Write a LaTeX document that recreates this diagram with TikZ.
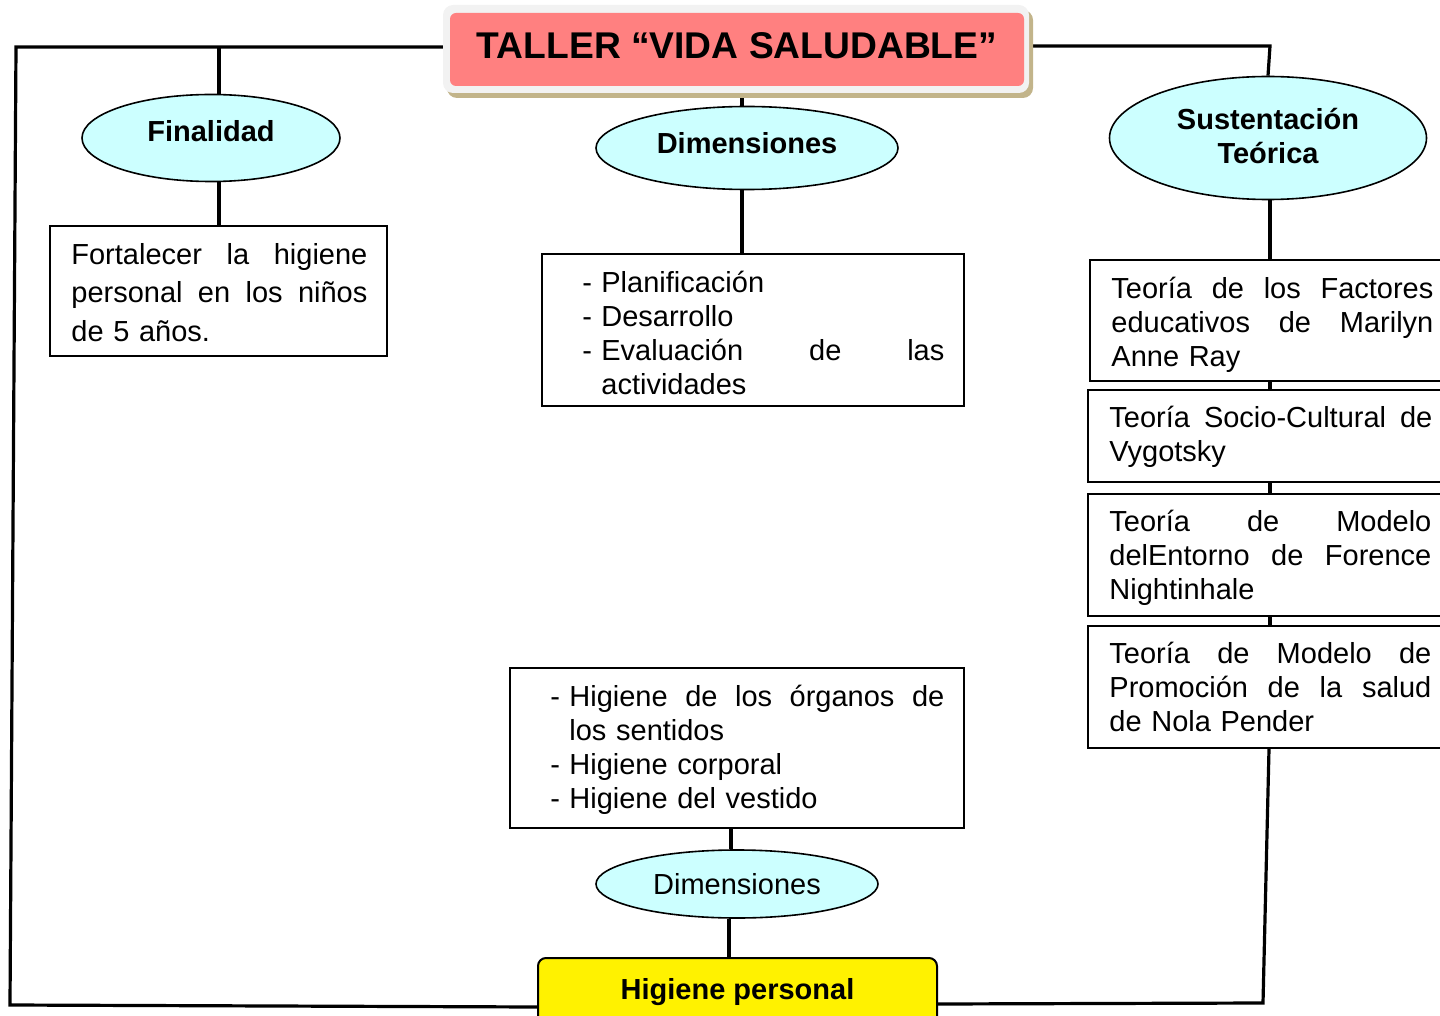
\documentclass[tikz,border=0pt]{standalone}
\usepackage{fontspec}
\setmainfont{Liberation Sans}
\usetikzlibrary{shapes.geometric,calc}
\pgfdeclarelayer{connlayer}
\pgfdeclarelayer{framelayer}
\pgfsetlayers{connlayer,framelayer,main}
\definecolor{pinkt}{HTML}{FF8080}
\definecolor{cyanl}{HTML}{CCFFFF}
\definecolor{tanshadow}{HTML}{C2B48A}
\definecolor{framegray}{HTML}{F2F2F2}
\newcommand{\jl}[2]{\leavevmode\makebox[#1][l]{#2}}
\begin{document}
\begin{tikzpicture}[x=0.5pt,y=-0.5pt,
  ell/.style={ellipse, draw, line width=0.8pt, fill=cyanl, inner sep=0pt, align=center},
  tbox/.style={rectangle, draw, line width=1pt, inner sep=0pt},
  ttext/.style={anchor=north west, inner sep=0pt, align=left, font=\fontsize{14.5}{17}\selectfont},
  link/.style={line width=1.6pt, line join=miter}]
\useasboundingbox (0,0) rectangle (1440,1016);
\clip (0,0) rectangle (1440,1016);

% title
\begin{pgfonlayer}{framelayer}
\fill[tanshadow, rounded corners=5pt] (447,10) rectangle (1033,98);
\fill[framegray, rounded corners=5pt] (443,5) rectangle (1029,93);
\end{pgfonlayer}
\node[rectangle, rounded corners=3pt, fill=pinkt, inner sep=0pt, minimum width=287pt, minimum height=36.5pt,
  font=\bfseries\fontsize{18.6}{20}\selectfont, text depth=4pt] (title) at (737,49.5) {TALLER “VIDA SALUDABLE”};

% ellipses
\node[ell, minimum width=129pt, minimum height=43.5pt, font=\bfseries\fontsize{14.5}{17}\selectfont, text depth=7pt] (fin) at (211,138) {Finalidad};
\node[ell, minimum width=151pt, minimum height=41.5pt, font=\bfseries\fontsize{14.5}{17}\selectfont, text depth=5pt] (dim) at (747,148) {Dimensiones};
\node[ell, minimum width=158.5pt, minimum height=61.5pt, font=\bfseries\fontsize{14.5}{17}\selectfont, text depth=2pt] (sust) at (1268,138) {Sustentación\\Teórica};
\node[ell, minimum width=141pt, minimum height=34pt, font=\fontsize{14.5}{17}\selectfont] (dim2) at (737,884) {Dimensiones};

% boxes
\node[tbox, minimum width=168.5pt, minimum height=65pt] (finbox) at (218.5,291) {};
\node[ttext, text width=148pt, font=\fontsize{14.5}{19.25}\selectfont] (fintxt) at (71,240)
  {\rule{0pt}{12pt}\jl{\hsize}{Fortalecer\hfill la\hfill higiene}\\\jl{\hsize}{personal\hfill en\hfill los\hfill niños}\\de 5 años.};

\node[tbox, minimum width=211pt, minimum height=76pt] (dimbox) at (753,330) {};
\node[ttext, text width=181pt] (dimtxt) at (582,268)
  {\rule{0pt}{12pt}\makebox[9.5pt][l]{-}Planificación\\
   \makebox[9.5pt][l]{-}Desarrollo\\
   \makebox[9.5pt][l]{-}\jl{171.5pt}{Evaluación\hfill de\hfill las}\\
   \hspace*{9.5pt}actividades};

\node[tbox, minimum width=227pt, minimum height=80pt] (mid) at (737,748) {};
\node[ttext, text width=197pt] (midtxt) at (550,682)
  {\rule{0pt}{12pt}\makebox[9.5pt][l]{-}\jl{187.5pt}{Higiene\hfill de\hfill los\hfill órganos\hfill de}\\
   \hspace*{9.5pt}los sentidos\\
   \makebox[9.5pt][l]{-}Higiene corporal\\
   \makebox[9.5pt][l]{-}Higiene del vestido};

\node[tbox, minimum width=180pt, minimum height=60.5pt] (t1) at (1270,320.5) {};
\node[ttext, text width=161pt] (t1txt) at (1111,274)
  {\rule{0pt}{12pt}\jl{\hsize}{Teoría\hfill de\hfill los\hfill Factores}\\\jl{\hsize}{educativos\hfill de\hfill Marilyn}\\Anne Ray};
\node[tbox, minimum width=181pt, minimum height=46pt] (t2) at (1269,436) {};
\node[ttext, text width=161.5pt] (t2txt) at (1109,403)
  {\rule{0pt}{12pt}\jl{\hsize}{Teoría\hfill Socio-Cultural\hfill de}\\Vygotsky};
\node[tbox, minimum width=181pt, minimum height=61pt] (t3) at (1269,555) {};
\node[ttext, text width=161pt] (t3txt) at (1109,507)
  {\rule{0pt}{12pt}\jl{\hsize}{Teoría\hfill de\hfill Modelo}\\\jl{\hsize}{delEntorno\hfill de\hfill Forence}\\Nightinhale};
\node[tbox, minimum width=181pt, minimum height=61pt] (t4) at (1269,687) {};
\node[ttext, text width=161pt] (t4txt) at (1109,639)
  {\rule{0pt}{12pt}\jl{\hsize}{Teoría\hfill de\hfill Modelo\hfill de}\\\jl{\hsize}{Promoción\hfill de\hfill la\hfill salud}\\de Nola Pender};

% bottom yellow
\node[rectangle, draw, line width=1pt, rounded corners=4pt, fill=yellow, inner sep=0pt,
  minimum width=199.5pt, minimum height=34pt, font=\bfseries\fontsize{14.5}{17}\selectfont] (hp) at (737.5,992) {Higiene personal};

% connectors
\coordinate (tl) at (16,47);
\coordinate (bl) at (10,1005);
\coordinate (hpL) at (538,1007);
\coordinate (tr) at (1270,46);
\coordinate (br) at (1263,1003);
\coordinate (hpR) at (937,1004);
\coordinate (jf) at (219,47);
\coordinate (jd) at (742,90);
\coordinate (jm) at (731,828);
\coordinate (jh) at (729,918);
\begin{pgfonlayer}{connlayer}
\draw[link] (title.west |- tl) -- (tl) -- (bl) -- (hpL);
\draw[link] (title.east |- tr) -- (tr) -- (sust.north);
\draw[link] (jf) -- (jf |- fin.north);
\draw[link] (fin.south -| jf) -- (finbox.north -| jf);
\draw[link] (jd) -- (jd |- dim.north);
\draw[link] (dim.south -| jd) -- (dimbox.north -| jd);
\draw[link] (sust.south -| tr) -- (t1.north -| tr);
\draw[link] (t1.south -| tr) -- (t2.north -| tr);
\draw[link] (t2.south -| tr) -- (t3.north -| tr);
\draw[link] (t3.south -| tr) -- (t4.north -| tr);
\draw[link] (t4.south) -- (br) -- (hpR);
\draw[link] (mid.south -| jm) -- (jm |- dim2.north);
\draw[link] (dim2.south -| jh) -- (hp.north -| jh);
\end{pgfonlayer}
\end{tikzpicture}
\end{document}
